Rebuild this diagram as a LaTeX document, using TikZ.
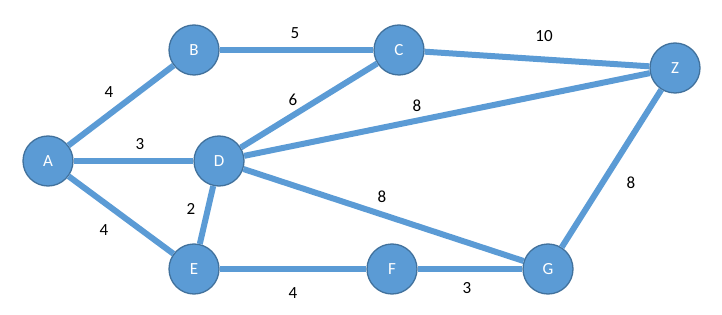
\documentclass[tikz,border=0pt]{standalone}
\usepackage{fontspec}
\setmainfont{Carlito}
\definecolor{nodefill}{HTML}{5B9BD5}
\definecolor{nodeline}{HTML}{41719C}
\begin{document}
\begin{tikzpicture}[x=1pt,y=-1pt,
  vert/.style={circle,fill=nodefill,draw=nodeline,line width=1.3pt,minimum size=50pt,inner sep=0pt,text=white,font=\fontsize{17}{20}\selectfont},
  edge/.style={draw=nodefill,line width=6pt},
  wt/.style={font=\fontsize{17}{20}\selectfont,text=black,inner sep=0pt}]
\useasboundingbox (0,0) rectangle (722,315);
\node[vert] (A) at (48,161) {A};
\node[vert] (B) at (194,50) {B};
\node[vert] (C) at (399,50) {C};
\node[vert] (Z) at (675,68) {Z};
\node[vert] (D) at (219,161) {D};
\node[vert] (E) at (194,269) {E};
\node[vert] (F) at (392,269) {F};
\node[vert] (G) at (548,269) {G};
\path[edge] (A) -- (B);
\path[edge] (A) -- (D);
\path[edge] (A) -- (E);
\path[edge] (B) -- (C);
\path[edge] (C) -- (Z);
\path[edge] (C) -- (D);
\path[edge] (D) -- (Z);
\path[edge] (D) -- (E);
\path[edge] (D) -- (G);
\path[edge] (E) -- (F);
\path[edge] (F) -- (G);
\path[edge] (G) -- (Z);
\node[wt] (wAB) at (109,92) {4};
\node[wt] (wAD) at (140,144) {3};
\node[wt] (wAE) at (104,230) {4};
\node[wt] (wBC) at (295,33) {5};
\node[wt] (wCZ) at (544,36) {10};
\node[wt] (wCD) at (293,100) {6};
\node[wt] (wDZ) at (417,106) {8};
\node[wt] (wDE) at (191,209) {2};
\node[wt] (wDG) at (382,197) {8};
\node[wt] (wGZ) at (631,183) {8};
\node[wt] (wEF) at (293,293) {4};
\node[wt] (wFG) at (467,288) {3};
\end{tikzpicture}
\end{document}
